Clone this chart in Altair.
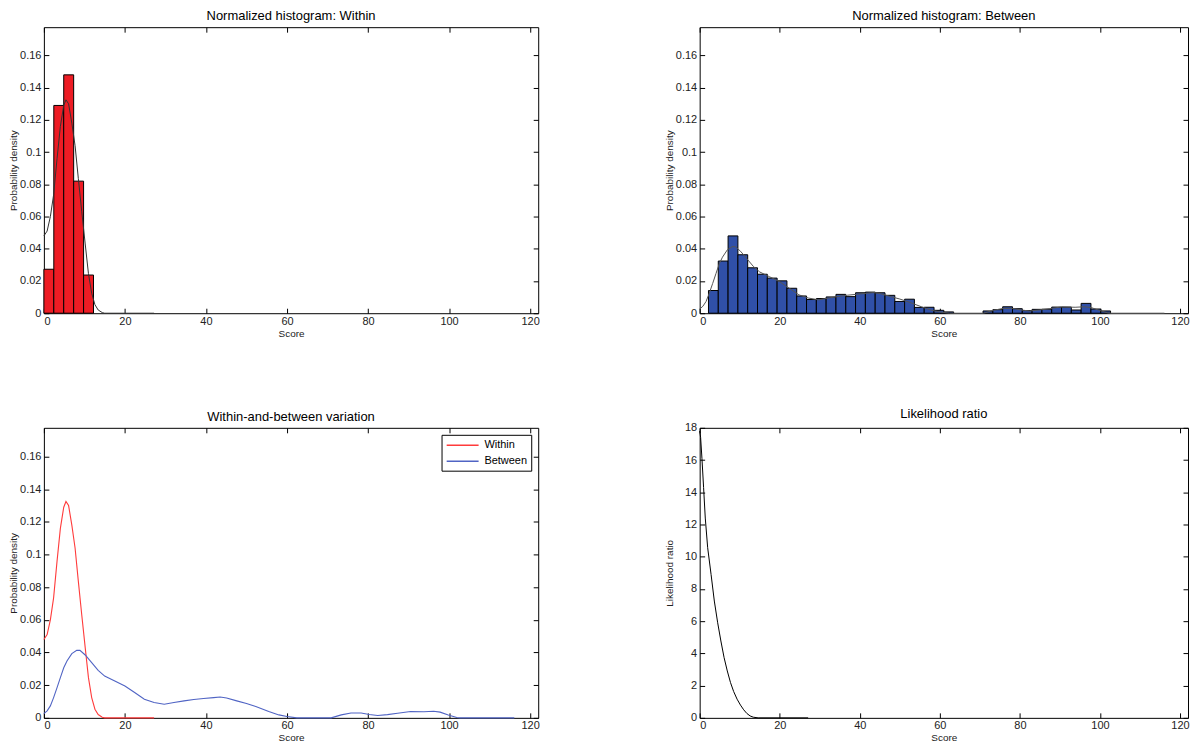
import pandas as pd
import altair as alt

XMAX = 122
XTICKS = [0, 20, 40, 60, 80, 100, 120]
PD_MAX = 0.1776
PD_TICKS = [0, 0.02, 0.04, 0.06, 0.08, 0.1, 0.12, 0.14, 0.16]
LR_TICKS = [0, 2, 4, 6, 8, 10, 12, 14, 16, 18]

# histogram of "within" scores
within_edges = [0, 2.45, 4.9, 7.35, 9.8, 12.25]
within_density = [0.0273, 0.129, 0.148, 0.082, 0.0237]

# histogram of "between" scores
between_edges = [2.2, 4.65, 7.1, 9.55, 12.0, 14.45, 16.9, 19.35, 21.8, 24.25,
                 26.7, 29.15, 31.6, 34.05, 36.5, 38.95, 41.4, 43.85, 46.3, 48.75,
                 51.2, 53.65, 56.1, 58.55, 61.0, 63.45, 65.9, 68.35, 70.8, 73.25,
                 75.7, 78.15, 80.6, 83.05, 85.5, 87.95, 90.4, 92.85, 95.3, 97.75,
                 100.2, 102.65]
between_density = [0.0141, 0.0324, 0.048, 0.0363, 0.0282, 0.0242, 0.0218, 0.0201, 0.0155, 0.0107,
                    0.0085, 0.0091, 0.0101, 0.0117, 0.0103, 0.0127, 0.0131, 0.0127, 0.0111, 0.0073,
                    0.0087, 0.0036, 0.0037, 0.0018, 0.0008, 0, 0, 0, 0.0014, 0.0022,
                    0.004, 0.0028, 0.0016, 0.0024, 0.0025, 0.0038, 0.0038, 0.002, 0.0061, 0.0026,
                    0.0014]

# kernel density curves
within_x = [0, 0.8, 1.6, 2.4, 3.25, 4.07, 4.9, 5.45, 6.1, 6.9, 7.7, 8.5, 9.35,
            10.2, 11, 11.8, 12.6, 13.4, 14.4, 15, 27.2]
within_y = [0.048, 0.051, 0.060, 0.0735, 0.096, 0.116, 0.129, 0.1325, 0.130, 0.118, 0.104,
            0.0837, 0.063, 0.043, 0.0246, 0.0124, 0.0053, 0.002, 0.0004, 0, 0]

between_x = [0, 0.8, 1.6, 2.4, 3.25, 4.07, 4.9, 5.7, 6.9, 8.1, 8.9, 10.2, 11.8, 13.4, 15,
             17.5, 20, 22.4, 24.8, 27.2, 29.7, 32.1, 34.6, 37, 39.4, 41.9, 43.5, 45.1, 47.6,
             50, 52.3, 55.5, 58, 60, 62.4, 70.9, 73.4, 75.8, 78.3, 80.3, 82.4, 84.8, 87.3,
             90.5, 93.8, 96.2, 97.8, 99.8, 101.9, 102.7, 116.1]
between_y = [0.0026, 0.0043, 0.0073, 0.0124, 0.0185, 0.0246, 0.0307, 0.0348, 0.0393, 0.0413,
             0.0413, 0.0385, 0.0338, 0.0291, 0.0256, 0.0226, 0.0195, 0.0155, 0.0114, 0.0094,
             0.0083, 0.0094, 0.0104, 0.0112, 0.0118, 0.0124, 0.0128, 0.0122, 0.0104, 0.0088,
             0.0069, 0.0039, 0.0018, 0.0008, 0, 0, 0.0018, 0.003, 0.003, 0.002,
             0.0014, 0.002, 0.0028, 0.0039, 0.0037, 0.004, 0.0035, 0.0018, 0.0002, 0, 0]

lr_x = [0, 0.24, 0.57, 0.98, 1.4, 2.0, 2.85, 3.66, 4.5, 5.3, 6.1, 6.9, 7.7, 8.5, 9.35,
        10.2, 11, 11.8, 12.6, 13.4, 14.6, 27.1]
lr_y = [17.8, 17.4, 16.1, 14.3, 12.4, 10.56, 8.9, 7.25, 5.9, 4.77, 3.74, 2.91, 2.19, 1.63,
        1.16, 0.79, 0.5, 0.27, 0.12, 0.04, 0, 0]

within_hist = pd.DataFrame({'lo': within_edges[:-1], 'hi': within_edges[1:], 'd': within_density})
between_hist = pd.DataFrame({'lo': between_edges[:-1], 'hi': between_edges[1:], 'd': between_density})
between_hist = between_hist[between_hist['d'] > 0]
within_kde = pd.DataFrame({'x': within_x, 'y': within_y, 'series': 'Within'})
between_kde = pd.DataFrame({'x': between_x, 'y': between_y, 'series': 'Between'})
lr_curve = pd.DataFrame({'x': lr_x, 'y': lr_y})

FONT = 'Liberation Sans'


def framed(layers, title, ytitle, ymax, yticks, w, h):
    xs = alt.Scale(domain=[0, XMAX], nice=False, zero=False)
    ys = alt.Scale(domain=[0, ymax], nice=False, zero=False)
    frame = pd.DataFrame({'x': [0, XMAX], 'y': [0, ymax]})
    base = alt.Chart(frame).mark_point(opacity=0)
    # inward ticks: axes pushed across the plot with a negative offset
    tick_opts = dict(labels=False, domain=False, grid=False, ticks=True, tickSize=5,
                     tickColor='black', title=None, minExtent=0, maxExtent=0)
    labelled = base.encode(
        alt.X('x:Q', scale=xs, title='Score',
              axis=alt.Axis(orient='bottom', values=XTICKS, ticks=False, domain=False, grid=False,
                            labelPadding=2, titlePadding=2)),
        alt.Y('y:Q', scale=ys, title=ytitle,
              axis=alt.Axis(orient='left', values=yticks, format='~g', ticks=False, domain=False,
                            grid=False, labelPadding=3, titlePadding=1, minExtent=24)),
    )
    ticks_low = base.encode(
        alt.X('x:Q', scale=xs, axis=alt.Axis(orient='top', offset=-h, values=XTICKS, **tick_opts)),
        alt.Y('y:Q', scale=ys, axis=alt.Axis(orient='right', offset=-w, values=yticks, **tick_opts)),
    )
    ticks_high = base.encode(
        alt.X('x:Q', scale=xs, axis=alt.Axis(orient='bottom', offset=-h, values=XTICKS, **tick_opts)),
        alt.Y('y:Q', scale=ys, axis=alt.Axis(orient='left', offset=-w, values=yticks, **tick_opts)),
    )
    return (
        alt.layer(labelled, ticks_low, ticks_high, *layers)
        .resolve_axis(x='independent', y='independent')
        .properties(width=w, height=h,
                    title=alt.Title(title, fontSize=13, fontWeight='normal', font=FONT,
                                    color='black', offset=1))
    )


def hist_layer(df, fill, ymax):
    return alt.Chart(df).mark_rect(fill=fill, stroke='black', strokeWidth=1).encode(
        x=alt.X('lo:Q', scale=alt.Scale(domain=[0, XMAX], nice=False), axis=None),
        x2='hi:Q',
        y=alt.Y('d:Q', scale=alt.Scale(domain=[0, ymax], nice=False), axis=None),
        y2=alt.datum(0),
    )


def curve_layer(df, color, ymax):
    return alt.Chart(df).mark_line(color=color, strokeWidth=1).encode(
        x=alt.X('x:Q', scale=alt.Scale(domain=[0, XMAX], nice=False), axis=None),
        y=alt.Y('y:Q', scale=alt.Scale(domain=[0, ymax], nice=False), axis=None),
    )


LW, RW, TH, BH = 496, 490, 287, 291

p_within = framed([hist_layer(within_hist, '#ed1c24', PD_MAX), curve_layer(within_kde, '#333333', PD_MAX)],
                  'Normalized histogram: Within', 'Probability density', PD_MAX, PD_TICKS, LW, TH)
p_between = framed([hist_layer(between_hist, '#3050a8', PD_MAX), curve_layer(between_kde, '#555555', PD_MAX)],
                   'Normalized histogram: Between', 'Probability density', PD_MAX, PD_TICKS, RW, TH)

kde_lines = alt.Chart(pd.concat([within_kde, between_kde])).mark_line(strokeWidth=1.1).encode(
    x=alt.X('x:Q', scale=alt.Scale(domain=[0, XMAX], nice=False), axis=None),
    y=alt.Y('y:Q', scale=alt.Scale(domain=[0, PD_MAX], nice=False), axis=None),
    color=alt.Color('series:N',
                    scale=alt.Scale(domain=['Within', 'Between'], range=['#ff3b3b', '#5064c4']),
                    legend=alt.Legend(title=None, orient='none', legendX=LW - 97, legendY=7,
                                      symbolType='M-1,0H5', symbolSize=114, symbolStrokeWidth=1.5,
                                      strokeColor='black', fillColor='white', padding=4,
                                      labelFontSize=11, labelFont=FONT, labelColor='black',
                                      labelOffset=26, rowPadding=4)),
    detail='series:N',
)
p_both = framed([kde_lines], 'Within-and-between variation', 'Probability density', PD_MAX, PD_TICKS,
                LW, BH)
p_lr = framed([curve_layer(lr_curve, 'black', 18)], 'Likelihood ratio', 'Likelihood ratio', 18, LR_TICKS,
              RW, BH)

chart = (
    alt.vconcat(
        alt.hconcat(p_within, p_between, spacing=122).resolve_legend(color='independent'),
        alt.hconcat(p_both, p_lr, spacing=122).resolve_legend(color='independent'),
        spacing=68,
    )
    .resolve_legend(color='independent')
    .resolve_scale(color='independent')
    .properties(padding=0)
    .configure_view(stroke='black', strokeWidth=1)
    .configure_axis(labelFont=FONT, labelFontSize=11, labelColor='#222222',
                    titleFont=FONT, titleFontSize=10, titleFontWeight='normal', titleColor='#222222')
)

chart.save('out.html', embed_options={'renderer': 'svg', 'actions': False})
